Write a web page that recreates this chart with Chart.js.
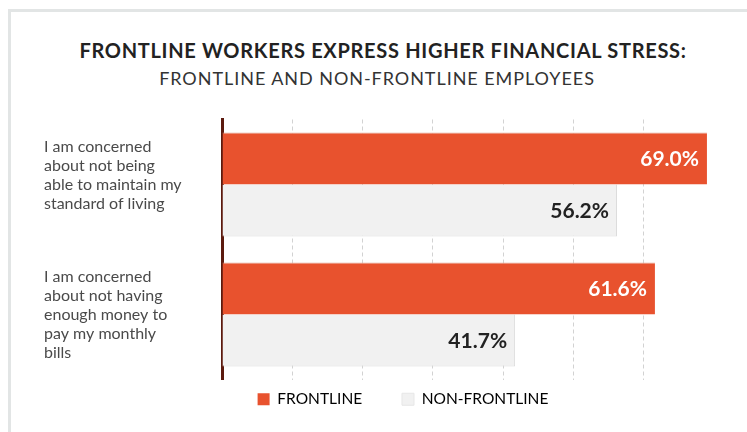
<!DOCTYPE html>
<html>
<head>
<meta charset="utf-8">
<script src="https://cdn.jsdelivr.net/npm/chart.js@4"></script>
<style>
  html, body { margin: 0; padding: 0; background: #fff; overflow: hidden; width: 747px; height: 432px; }
  .card { position: absolute; left: 8px; top: 9px; width: 760px; height: 440px;
          border-left: 3px solid #e2e5e5; border-top: 3px solid #e2e5e5; }
  .title { position: absolute; left: 0; width: 766px; text-align: center; font-family: Lato, sans-serif; white-space: nowrap; }
  #t1 { top: 38px; font-size: 20px; line-height: 24px; font-weight: 700; color: #222; letter-spacing: 0.7px; }
  #t2 { top: 67px; left: -6px; font-size: 18px; line-height: 22px; font-weight: 400; color: #333; letter-spacing: 0.95px; }
  #wrap { position: absolute; left: 12px; top: 72px; width: 760px; height: 360px; }
</style>
</head>
<body>
<div class="card"></div>
<div class="title" id="t1">FRONTLINE WORKERS EXPRESS HIGHER FINANCIAL STRESS:</div>
<div class="title" id="t2">FRONTLINE AND NON-FRONTLINE EMPLOYEES</div>
<div id="wrap"><canvas id="chart"></canvas></div>
<script>
const categories = [
  ["I am concerned", "about not being", "able to maintain my", "standard of living", ""],
  ["I am concerned", "about not having", "enough money to", "pay my monthly", "bills"]
];
const frontline = [69.0, 61.6];
const nonFrontline = [56.2, 41.7];
const seriesNames = ["FRONTLINE", "NON-FRONTLINE"];

// values written at the inner end of each bar
const barValues = {
  id: 'barValues',
  afterDatasetsDraw(chart) {
    const ctx = chart.ctx;
    ctx.save();
    ctx.font = 'bold 21px Lato';
    ctx.textAlign = 'right';
    ctx.textBaseline = 'middle';
    chart.data.datasets.forEach((ds, i) => {
      chart.getDatasetMeta(i).data.forEach((bar, j) => {
        ctx.fillStyle = i === 0 ? '#ffffff' : '#222222';
        ctx.fillText(ds.data[j].toFixed(1) + '%', bar.x - 8, bar.y + 1);
      });
    });
    ctx.restore();
  }
};

new Chart(document.getElementById('chart'), {
  type: 'bar',
  data: {
    labels: categories,
    datasets: [
      {
        label: seriesNames[0],
        data: frontline,
        backgroundColor: '#e8522e',
        borderColor: '#e2a391',
        borderWidth: { top: 1, right: 0, bottom: 0, left: 0 },
        borderSkipped: false
      },
      {
        label: seriesNames[1],
        data: nonFrontline,
        backgroundColor: '#f1f1f1',
        borderColor: '#dcdcdc',
        borderWidth: { top: 0, right: 1, bottom: 1, left: 0 },
        borderSkipped: false
      }
    ]
  },
  options: {
    indexAxis: 'y',
    responsive: true,
    maintainAspectRatio: false,
    animation: false,
    layout: { padding: { left: 32, right: 10, top: 0, bottom: 15 } },
    datasets: { bar: { categoryPercentage: 0.8, barPercentage: 1.0 } },
    scales: {
      x: {
        min: 0,
        max: 70,
        ticks: { display: false, stepSize: 10 },
        grid: {
          drawTicks: false,
          tickLength: 0,
          color: ctx => (ctx.tick && (ctx.tick.value === 0 || ctx.tick.value === 70)) ? 'rgba(0,0,0,0)' : '#d2d2d2',
          lineWidth: 1
        },
        border: { display: false, dash: [4, 3] }
      },
      y: {
        z: 1,
        grid: { display: false, drawTicks: false },
        border: { display: true, color: '#5c1a0e', width: 3 },
        ticks: {
          crossAlign: 'far',
          padding: 0,
          color: '#4a4a4a',
          font: { family: 'Lato', size: 16, lineHeight: 1.1875 }
        },
        afterFit(scale) { scale.width = 178; }
      },
      y2: {
        type: 'category',
        axis: 'y',
        position: 'right',
        grid: { display: false, drawTicks: false },
        border: { display: false },
        ticks: { display: false },
        afterFit(scale) { scale.width = 48; }
      }
    },
    plugins: {
      title: { display: false },
      tooltip: { enabled: false },
      legend: {
        position: 'bottom',
        labels: {
          boxWidth: 12,
          boxHeight: 12,
          padding: 12,
          color: '#333',
          font: { family: 'Lato', size: 15.5 },
          generateLabels(chart) {
            return chart.data.datasets.map((ds, i) => ({
              text: i === 0 ? ds.label + '       ' : ds.label,
              fillStyle: ds.backgroundColor,
              strokeStyle: i === 0 ? ds.backgroundColor : '#e6e6e6',
              lineWidth: i === 0 ? 0 : 1,
              datasetIndex: i
            }));
          }
        }
      }
    }
  },
  plugins: [barValues]
});
</script>
</body>
</html>
